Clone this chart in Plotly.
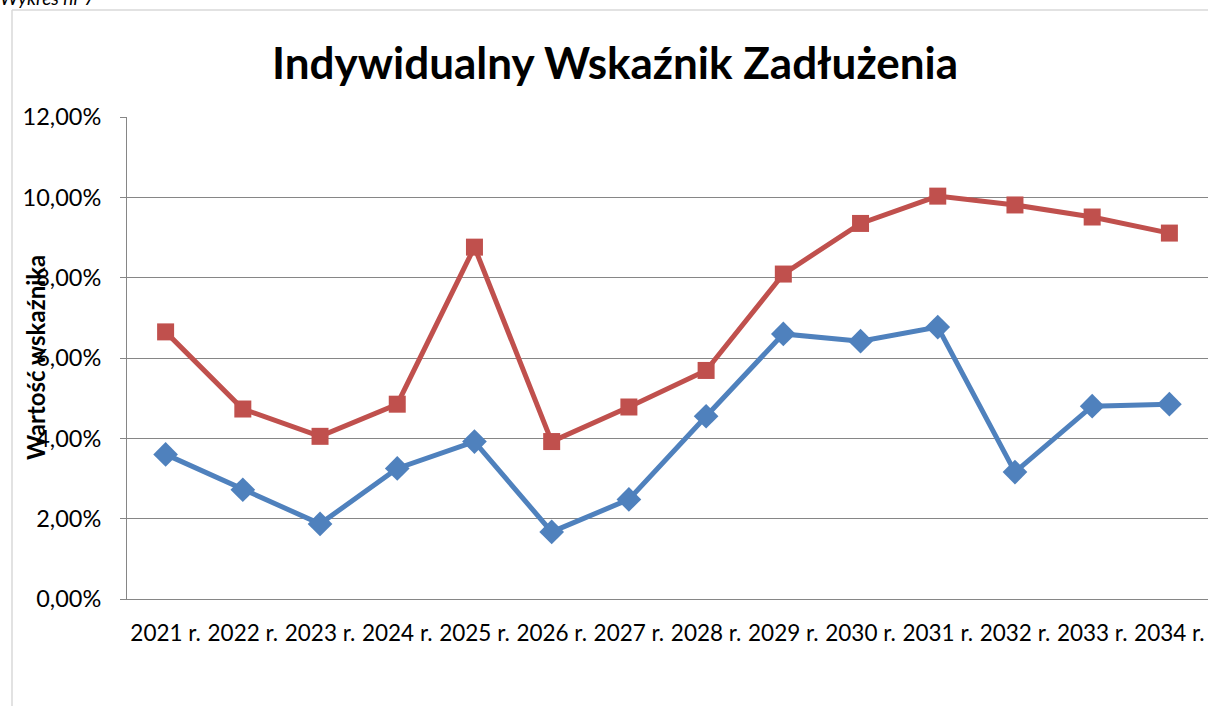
import plotly.graph_objects as go

years = ["2021 r.", "2022 r.", "2023 r.", "2024 r.", "2025 r.", "2026 r.", "2027 r.",
         "2028 r.", "2029 r.", "2030 r.", "2031 r.", "2032 r.", "2033 r.", "2034 r."]
blue_vals = [0.0360, 0.0272, 0.0187, 0.0325, 0.0392, 0.0167, 0.0248,
             0.0455, 0.0660, 0.0642, 0.0677, 0.0316, 0.0480, 0.0485]
red_vals = [0.0665, 0.0473, 0.0405, 0.0485, 0.0876, 0.0392, 0.0478,
            0.0569, 0.0809, 0.0935, 0.1003, 0.0981, 0.0951, 0.0911]
y_ticks = [0, 0.02, 0.04, 0.06, 0.08, 0.10, 0.12]

W, H = 1208, 706
L, R, T, B = 127, 0, 117, 107
pw, ph = W - L - R, H - T - B

def px_x(x):
    return (x - L) / pw

def px_y(y):
    return (H - B - y) / ph

FONT = "Lato"

fig = go.Figure()
fig.add_trace(go.Scatter(
    x=years, y=blue_vals, mode="lines+markers",
    line=dict(color="#4F81BD", width=5),
    marker=dict(symbol="diamond", size=19, color="#4F81BD"),
    showlegend=False, cliponaxis=False))
fig.add_trace(go.Scatter(
    x=years, y=red_vals, mode="lines+markers",
    line=dict(color="#C0504D", width=5),
    marker=dict(symbol="square", size=17, color="#C0504D"),
    showlegend=False, cliponaxis=False))

fig.update_layout(
    width=W, height=H,
    margin=dict(l=L, r=R, t=T, b=B),
    paper_bgcolor="white", plot_bgcolor="white",
    separators=", ",
    font=dict(family=FONT, size=20, color="black"),
    xaxis=dict(
        type="category", range=[-0.5, 13.5], showgrid=False,
        showline=True, linecolor="#868686", linewidth=1,
        ticks="", tickfont=dict(family=FONT, size=22.5), ticklabelstandoff=14,
        fixedrange=True),
    yaxis=dict(
        range=[0, 0.12], tickvals=y_ticks, tickformat=".2%",
        showgrid=True, gridcolor="#868686", gridwidth=1,
        showline=True, linecolor="#868686", linewidth=1,
        ticks="outside", ticklen=6, tickcolor="#868686",
        tickfont=dict(family=FONT, size=23.5), ticklabelstandoff=14,
        zeroline=False, fixedrange=True),
    annotations=[
        dict(text="<b>Indywidualny Wskaźnik Zadłużenia</b>", xref="paper", yref="paper",
             x=px_x(615), y=px_y(62), xanchor="center", yanchor="middle",
             showarrow=False, font=dict(family=FONT, size=44, color="black")),
        dict(text="<b>Wartość wskaźnika</b>", xref="paper", yref="paper",
             x=px_x(35), y=px_y(358), xanchor="center", yanchor="middle",
             textangle=-90, showarrow=False, font=dict(family=FONT, size=24, color="black")),
        dict(text="<i>Wykres nr 7</i>", xref="paper", yref="paper",
             x=px_x(-2), y=px_y(11), xanchor="left", yanchor="bottom",
             showarrow=False, font=dict(family=FONT, size=19, color="black")),
    ],
    shapes=[
        dict(type="line", xref="paper", yref="paper", x0=px_x(12), x1=px_x(12),
             y0=px_y(10), y1=px_y(H + 5), line=dict(color="#D9D9D9", width=1.5)),
        dict(type="line", xref="paper", yref="paper", x0=px_x(12), x1=px_x(W + 5),
             y0=px_y(10), y1=px_y(10), line=dict(color="#D9D9D9", width=1.5)),
    ],
)

fig.write_html("out.html")
